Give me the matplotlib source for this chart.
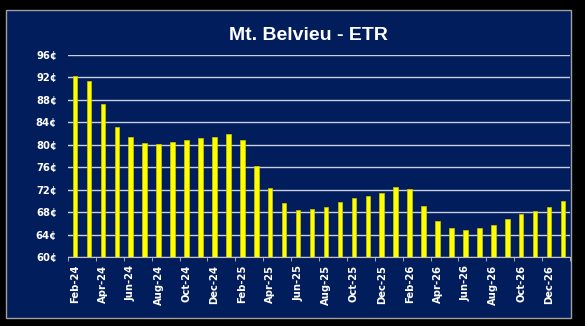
import numpy as np
import matplotlib
matplotlib.use('Agg')
from matplotlib import pyplot as plt
from matplotlib.patches import Rectangle

# monthly prices, cents per gallon
months = ['Feb-24', 'Mar-24', 'Apr-24', 'May-24', 'Jun-24', 'Jul-24', 'Aug-24', 'Sep-24',
          'Oct-24', 'Nov-24', 'Dec-24', 'Jan-25', 'Feb-25', 'Mar-25', 'Apr-25', 'May-25',
          'Jun-25', 'Jul-25', 'Aug-25', 'Sep-25', 'Oct-25', 'Nov-25', 'Dec-25', 'Jan-26',
          'Feb-26', 'Mar-26', 'Apr-26', 'May-26', 'Jun-26', 'Jul-26', 'Aug-26', 'Sep-26',
          'Oct-26', 'Nov-26', 'Dec-26', 'Jan-27']
prices = [92.2, 91.4, 87.2, 83.2, 81.4, 80.4, 80.2, 80.5,
          80.9, 81.2, 81.4, 81.9, 80.8, 76.3, 72.3, 69.6,
          68.4, 68.6, 69.0, 69.8, 70.5, 70.9, 71.5, 72.5,
          72.1, 69.1, 66.5, 65.2, 64.9, 65.2, 65.7, 66.8,
          67.7, 68.3, 69.0, 70.0]
y_ticks = [60, 64, 68, 72, 76, 80, 84, 88, 92, 96]

navy = '#021d5c'
tick_font = 'DejaVu Sans'
title_font = 'Liberation Sans'

fig = plt.figure(figsize=(5.85, 3.26), dpi=100, facecolor='black')
# navy panel with thin grey frame, behind the axes
fig.patches.append(Rectangle((6 / 585, 1 - 318 / 326), 565 / 585, 308 / 326,
                             transform=fig.transFigure, facecolor=navy,
                             edgecolor='#a0a0a0', linewidth=1, zorder=-10))

ax = fig.add_axes([68 / 585, 1 - 257.3 / 326, 502 / 585, 202.3 / 326])
ax.set_facecolor(navy)

x = np.arange(len(months))
ax.bar(x, prices, width=0.33, color='#ffff00', edgecolor='#c8c800', linewidth=0.5, zorder=3)

ax.set_xlim(-0.5, len(months) - 0.5)
ax.set_ylim(60, 96)
ax.set_yticks(y_ticks)
ax.set_yticklabels([f'{v}\u00a2' for v in y_ticks], fontsize=7.2, fontweight='bold',
                   color='white', family=tick_font)
ax.tick_params(axis='y', length=0, pad=8)
ax.yaxis.grid(True, color='#c8cfe0', linewidth=1)
ax.set_axisbelow(True)

ax.set_xticks(x[::2])
ax.set_xticklabels(months[::2], rotation=90, fontsize=7.2, fontweight='bold',
                   color='white', family=tick_font)
ax.tick_params(axis='x', which='major', length=0, pad=5.5)
ax.set_xticks(np.arange(-0.5, len(months), 2), minor=True)
ax.tick_params(axis='x', which='minor', length=3, color='#c0c0c0', direction='out')

for s in ['top', 'right', 'left']:
    ax.spines[s].set_visible(False)
ax.spines['bottom'].set_color('#c0c0c0')

fig.text(308 / 585, 1 - 36 / 326, 'Mt. Belvieu - ETR', ha='center', va='center',
         fontsize=14, fontweight='heavy', color='white', family=title_font, zorder=5)

plt.savefig('out.png', dpi=100, facecolor='black')
